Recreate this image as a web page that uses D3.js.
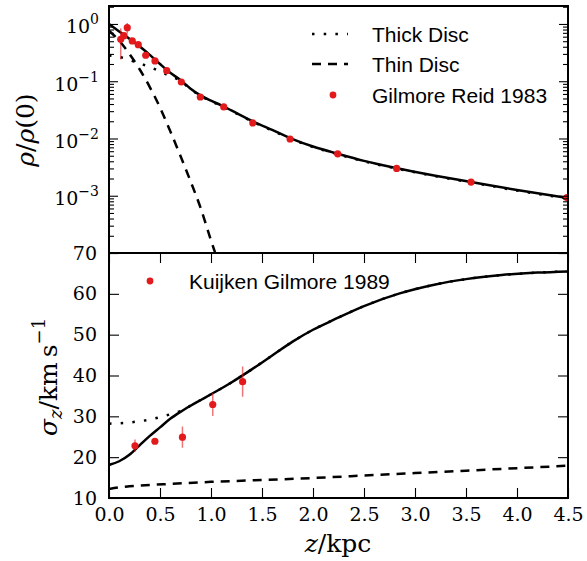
<!DOCTYPE html>
<html>
<head>
<meta charset="utf-8">
<script src="https://cdn.jsdelivr.net/npm/d3@7"></script>
<style>
  body { margin: 0; background: #fff; }
</style>
</head>
<body>
<svg id="chart" width="587" height="561"></svg>
<script>
// ---- values ----
var xTicks = [0, 0.5, 1, 1.5, 2, 2.5, 3, 3.5, 4, 4.5];
var rhoMajorTicks = [1e-4, 1e-3, 1e-2, 1e-1, 1];
var sigmaTicks = [10, 20, 30, 40, 50, 60, 70];

// top panel: density curves (z in kpc, rho/rho(0))
var totalRhoZ = [0, 0.1, 0.2, 0.3, 0.4, 0.5, 0.6, 0.7, 0.8, 0.9, 1.0, 1.1, 1.2, 1.4, 1.6, 1.8, 2.0, 2.25, 2.5, 2.8, 3.2, 3.55, 4.0, 4.5];
var totalRho = [1, 0.741, 0.550, 0.407, 0.288, 0.200, 0.141, 0.105, 0.0741, 0.0562, 0.0457, 0.0380, 0.0309, 0.0204, 0.0141, 0.00977, 0.00724, 0.00537, 0.00407, 0.00309, 0.00224, 0.00174, 0.00126, 0.000912];

var thickRhoZ = [0, 0.1, 0.2, 0.3, 0.4, 0.5, 0.6, 0.7, 0.8, 0.9, 1.0, 1.1, 1.2, 1.4, 1.6, 1.8, 2.0, 2.25, 2.5, 2.8, 3.2, 3.55, 4.0, 4.5];
var thickRho = [0.282, 0.266, 0.234, 0.204, 0.178, 0.148, 0.123, 0.102, 0.0726, 0.0551, 0.0448, 0.0372, 0.0303, 0.0200, 0.0138, 0.00957, 0.00710, 0.00526, 0.00399, 0.00303, 0.00220, 0.00171, 0.00123, 0.000894];

var thinRhoZ = [0, 0.1, 0.2, 0.3, 0.4, 0.5, 0.6, 0.7, 0.8, 0.9, 1.0, 1.1];
var thinRho = [0.76, 0.51, 0.30, 0.162, 0.079, 0.0347, 0.0135, 0.0050, 0.00178, 0.00060, 0.000166, 0.000050];

// Gilmore & Reid 1983 star counts
var grZ = [0.115, 0.147, 0.179, 0.228, 0.287, 0.36, 0.451, 0.566, 0.709, 0.895, 1.125, 1.41, 1.775, 2.242, 2.82, 3.549, 4.49];
var grRho = [0.54, 0.625, 0.86, 0.505, 0.435, 0.284, 0.226, 0.153, 0.097, 0.053, 0.0356, 0.0187, 0.0098, 0.0054, 0.0030, 0.00173, 0.00093];
var grErr = [0.30, 0.07, 0.18, 0.04, 0.03, 0.02, 0.015, 0.01, 0.006, 0.004, 0.002, 0.001, 0.0005, 0.0003, 0.0002, 0.0001, 0.00005];

// bottom panel: velocity dispersion (km/s)
var totalSigZ = [0, 0.1, 0.2, 0.3, 0.4, 0.5, 0.6, 0.7, 0.8, 0.9, 1.0, 1.2, 1.4, 1.6, 1.8, 2.0, 2.2, 2.5, 2.85, 3.2, 3.5, 3.85, 4.2, 4.5];
var totalSig = [18.1, 19.0, 20.6, 22.9, 25.2, 27.3, 29.4, 31.1, 32.6, 34.0, 35.4, 38.3, 41.5, 44.9, 48.3, 51.2, 53.6, 57.0, 60.1, 62.3, 63.6, 64.6, 65.2, 65.5];

var thickSigZ = [0, 0.1, 0.2, 0.3, 0.4, 0.5, 0.6, 0.7, 0.8, 0.9, 1.0, 1.2, 1.4, 1.6, 1.8, 2.0, 2.2, 2.5, 2.85, 3.2, 3.5, 3.85, 4.2, 4.5];
var thickSig = [28.2, 28.3, 28.5, 28.8, 29.2, 29.8, 30.5, 31.3, 32.6, 34.0, 35.4, 38.3, 41.5, 44.9, 48.3, 51.2, 53.6, 57.0, 60.1, 62.3, 63.6, 64.6, 65.2, 65.5];

var thinSigZ = [0, 0.1, 0.2, 0.4, 0.6, 1.0, 1.5, 2.0, 2.5, 3.0, 3.5, 4.0, 4.5];
var thinSig = [12.2, 12.6, 12.85, 13.2, 13.45, 13.95, 14.4, 14.9, 15.5, 16.1, 16.7, 17.3, 17.9];

// Kuijken & Gilmore 1989
var kgZ = [0.255, 0.45, 0.72, 1.017, 1.31];
var kgSig = [22.8, 23.9, 24.9, 32.9, 38.5];
var kgErr = [1.5, 0.5, 2.6, 2.8, 3.7];

// ---- layout ----
var svg = d3.select("#chart");
var left = 109, right = 568;
var topY0 = 6, midY = 253, botY1 = 498;
var red = "#e31a1c";
var serifStyle = "font-family: 'DejaVu Serif', serif";
var sansStyle = "font-family: 'Liberation Sans', Arial, sans-serif";

var x = d3.scaleLinear().domain([0, 4.5]).range([left, right]);
var yRho = d3.scaleLog().domain([1e-4, 2.06]).range([midY, topY0]);
var ySig = d3.scaleLinear().domain([10, 70]).range([botY1, midY]);

var defs = svg.append("defs");
defs.append("clipPath").attr("id", "clipTop")
  .append("rect").attr("x", left).attr("y", topY0).attr("width", right - left).attr("height", midY - topY0);
defs.append("clipPath").attr("id", "clipBot")
  .append("rect").attr("x", left).attr("y", midY).attr("width", right - left).attr("height", botY1 - midY);

function pairs(zs, vs) {
  return zs.map(function(z, i) { return [z, vs[i]]; });
}

function drawCurve(g, zs, vs, yScale, dash) {
  var line = d3.line()
    .x(function(d) { return x(d[0]); })
    .y(function(d) { return yScale(d[1]); })
    .curve(d3.curveMonotoneX);
  g.append("path")
    .attr("d", line(pairs(zs, vs)))
    .attr("fill", "none")
    .attr("stroke", "#000")
    .attr("stroke-width", 2.5)
    .attr("stroke-dasharray", dash);
}

// ---- top panel ----
var gTop = svg.append("g").attr("clip-path", "url(#clipTop)");
drawCurve(gTop, thickRhoZ, thickRho, yRho, "2.5,9.2");
drawCurve(gTop, thinRhoZ, thinRho, yRho, "9,7");
drawCurve(gTop, totalRhoZ, totalRho, yRho, null);

var grData = grZ.map(function(z, i) { return {z: z, v: grRho[i], e: grErr[i]}; });
gTop.selectAll(".grerr").data(grData).enter().append("line")
  .attr("x1", function(d) { return x(d.z); })
  .attr("x2", function(d) { return x(d.z); })
  .attr("y1", function(d) { return yRho(Math.max(d.v - d.e, 1e-5)); })
  .attr("y2", function(d) { return yRho(d.v + d.e); })
  .attr("stroke", red).attr("stroke-opacity", 0.6).attr("stroke-width", 1.5);
gTop.selectAll(".grpt").data(grData).enter().append("circle")
  .attr("cx", function(d) { return x(d.z); })
  .attr("cy", function(d) { return yRho(d.v); })
  .attr("r", 3.6).attr("fill", red);

// ---- bottom panel ----
var gBot = svg.append("g").attr("clip-path", "url(#clipBot)");
drawCurve(gBot, thickSigZ, thickSig, ySig, "2.5,9.2");
drawCurve(gBot, thinSigZ, thinSig, ySig, "9,7");
drawCurve(gBot, totalSigZ, totalSig, ySig, null);

var kgData = kgZ.map(function(z, i) { return {z: z, v: kgSig[i], e: kgErr[i]}; });
gBot.selectAll(".kgerr").data(kgData).enter().append("line")
  .attr("x1", function(d) { return x(d.z); })
  .attr("x2", function(d) { return x(d.z); })
  .attr("y1", function(d) { return ySig(d.v - d.e); })
  .attr("y2", function(d) { return ySig(d.v + d.e); })
  .attr("stroke", red).attr("stroke-opacity", 0.6).attr("stroke-width", 1.5);
gBot.selectAll(".kgpt").data(kgData).enter().append("circle")
  .attr("cx", function(d) { return x(d.z); })
  .attr("cy", function(d) { return ySig(d.v); })
  .attr("r", 3.6).attr("fill", red);

// ---- axes (ticks point inward) ----
function styleAxis(g) {
  g.attr("font-family", null).attr("font-size", null);
  g.select(".domain").remove();
  g.selectAll(".tick line").attr("stroke", "#000").attr("stroke-width", 1.1);
  g.selectAll("text").attr("style", serifStyle).attr("font-size", 19).attr("fill", "#000");
}

var rhoMinor = [];
[-4, -3, -2, -1, 0].forEach(function(p) {
  for (var m = 2; m <= 9; m++) {
    var v = m * Math.pow(10, p);
    if (v < 2.06) rhoMinor.push(v);
  }
});

// density axes
var gRhoL = svg.append("g").attr("transform", "translate(" + left + ",0)")
  .call(d3.axisLeft(yRho).tickValues(rhoMajorTicks).tickSize(-9).tickPadding(10)
    .tickFormat(function(d) { return d < 5e-4 ? "" : Math.round(Math.log10(d)); }));
styleAxis(gRhoL);
gRhoL.selectAll(".tick text").each(function() {
  var t = d3.select(this);
  var p = t.text();
  t.text(null).attr("dy", null).attr("y", 9);
  if (p === "") return;
  t.append("tspan").text("10");
  t.append("tspan").attr("dy", -9).attr("font-size", 14).text(p.replace("-", "\u2212"));
});
svg.append("g").attr("transform", "translate(" + left + ",0)")
  .call(d3.axisLeft(yRho).tickValues(rhoMinor).tickSize(-5).tickFormat(""))
  .call(styleAxis);
svg.append("g").attr("transform", "translate(" + right + ",0)")
  .call(d3.axisRight(yRho).tickValues(rhoMajorTicks).tickSize(-9).tickFormat(""))
  .call(styleAxis);
svg.append("g").attr("transform", "translate(" + right + ",0)")
  .call(d3.axisRight(yRho).tickValues(rhoMinor).tickSize(-5).tickFormat(""))
  .call(styleAxis);

// dispersion axes
svg.append("g").attr("transform", "translate(" + left + ",0)")
  .call(d3.axisLeft(ySig).tickValues(sigmaTicks).tickSize(-10).tickPadding(12).tickFormat(d3.format("d")))
  .call(styleAxis);
svg.append("g").attr("transform", "translate(" + right + ",0)")
  .call(d3.axisRight(ySig).tickValues(sigmaTicks).tickSize(-10).tickFormat(""))
  .call(styleAxis);
svg.append("g").attr("transform", "translate(0," + botY1 + ")")
  .call(d3.axisBottom(x).tickValues(xTicks).tickSize(-10).tickPadding(10).tickFormat(d3.format(".1f")))
  .call(styleAxis);
svg.append("g").attr("transform", "translate(0," + midY + ")")
  .call(d3.axisTop(x).tickValues(xTicks).tickSize(-10).tickFormat(""))
  .call(styleAxis);

// frames
[[topY0, midY], [midY, botY1]].forEach(function(r) {
  svg.append("rect")
    .attr("x", left).attr("y", r[0])
    .attr("width", right - left).attr("height", r[1] - r[0])
    .attr("fill", "none").attr("stroke", "#000").attr("stroke-width", 2);
});

// ---- axis labels ----
var rhoLab = svg.append("text").attr("style", serifStyle)
  .attr("transform", "translate(34,130) rotate(-90)")
  .attr("text-anchor", "middle")
  .attr("font-size", 25);
rhoLab.append("tspan").attr("font-style", "italic").text("\u03c1");
rhoLab.append("tspan").text("/");
rhoLab.append("tspan").attr("font-style", "italic").text("\u03c1");
rhoLab.append("tspan").text("(0)");

var sigLab = svg.append("text").attr("style", serifStyle)
  .attr("transform", "translate(57,377) rotate(-90)")
  .attr("text-anchor", "middle")
  .attr("font-size", 25);
sigLab.append("tspan").attr("font-style", "italic").text("\u03c3");
sigLab.append("tspan").attr("font-style", "italic").attr("font-size", 18).attr("dy", 5).text("z");
sigLab.append("tspan").attr("dy", -5).text("/km\u2009s");
sigLab.append("tspan").attr("font-size", 18).attr("dy", -12).text("\u22121");

var zLab = svg.append("text").attr("style", serifStyle)
  .attr("x", 338).attr("y", 552)
  .attr("text-anchor", "middle")
  .attr("font-size", 25);
zLab.append("tspan").attr("font-style", "italic").text("z");
zLab.append("tspan").text("/kpc");

// ---- legends ----
var legTop = svg.append("g").attr("style", sansStyle).attr("font-size", 21);
legTop.append("line").attr("x1", 312).attr("x2", 348).attr("y1", 34).attr("y2", 34)
  .attr("stroke", "#000").attr("stroke-width", 2.5).attr("stroke-dasharray", "2.5,9.2");
legTop.append("text").attr("x", 372).attr("y", 42).text("Thick Disc");
legTop.append("line").attr("x1", 312).attr("x2", 348).attr("y1", 64).attr("y2", 64)
  .attr("stroke", "#000").attr("stroke-width", 2.5).attr("stroke-dasharray", "9,7");
legTop.append("text").attr("x", 372).attr("y", 72).text("Thin Disc");
legTop.append("circle").attr("cx", 333).attr("cy", 95).attr("r", 3.4).attr("fill", red);
legTop.append("text").attr("x", 372).attr("y", 102.5).text("Gilmore Reid 1983");

var legBot = svg.append("g").attr("style", sansStyle).attr("font-size", 21);
legBot.append("circle").attr("cx", 150).attr("cy", 281).attr("r", 3.4).attr("fill", red);
legBot.append("text").attr("x", 189).attr("y", 288.5).text("Kuijken Gilmore 1989");
</script>
</body>
</html>
